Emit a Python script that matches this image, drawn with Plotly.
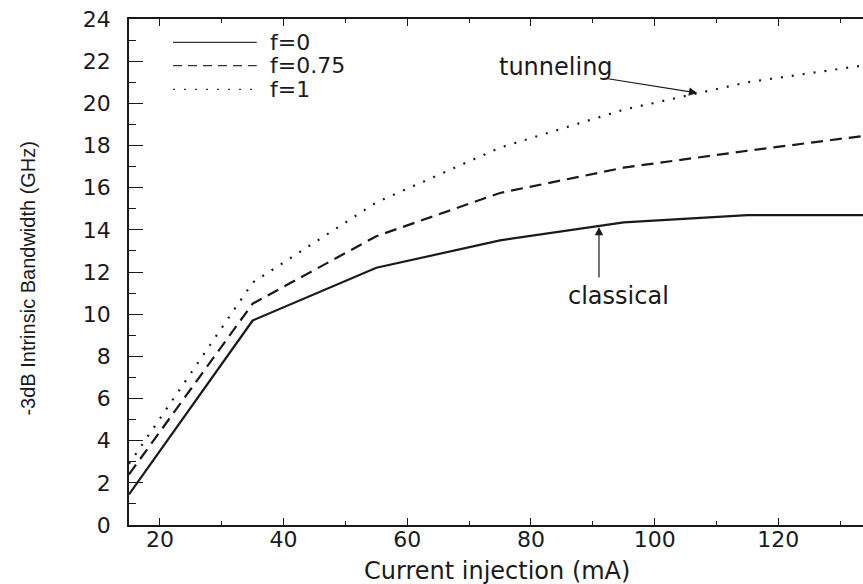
import plotly.graph_objects as go

# Injection current (mA) and -3 dB intrinsic bandwidth (GHz) for each f
current_mA = [15, 35, 55, 75, 95, 115, 135]
bw_f0 = [1.45, 9.7, 12.2, 13.5, 14.35, 14.7, 14.7]
bw_f075 = [2.4, 10.5, 13.7, 15.75, 16.95, 17.75, 18.5]
bw_f1 = [2.9, 11.5, 15.3, 17.9, 19.7, 21.0, 21.85]

series_names = ["f=0", "f=0.75", "f=1"]
x_ticks = [20, 40, 60, 80, 100, 120]
y_ticks = list(range(0, 25, 2))

FONT = "DejaVu Sans"
INK = "#1a1a1a"

line_styles = [
    dict(color=INK, width=2.2, dash="solid"),
    dict(color=INK, width=2.2, dash="12px,7px"),
    dict(color=INK, width=2.2, dash="2px,9px"),
]

fig = go.Figure()
for name, ys, style in zip(series_names, [bw_f0, bw_f075, bw_f1], line_styles):
    fig.add_trace(go.Scatter(x=current_mA, y=ys, mode="lines", name=name,
                             line=style, showlegend=False))

# Legend: sample line plus label for each series
legend_y = [0.954, 0.908, 0.861]
legend_dash = ["solid", "9px,6px", "2px,9px"]
for name, ly, dash in zip(series_names, legend_y, legend_dash):
    fig.add_shape(type="line", xref="paper", yref="paper",
                  x0=0.06, x1=0.174, y0=ly, y1=ly,
                  line=dict(color="#333333", width=1.2, dash=dash))
    fig.add_annotation(xref="paper", yref="paper", x=0.19, y=ly,
                       text=name, showarrow=False, xanchor="left",
                       yanchor="middle", font=dict(family=FONT, size=22, color=INK))

# Labels with arrows pointing at the curves
fig.add_annotation(x=84.0, y=21.73, text="tunneling", showarrow=False,
                   xanchor="center", yanchor="middle",
                   font=dict(family=FONT, size=24, color=INK))
fig.add_annotation(x=106.9, y=20.49, ax=91.7, ay=21.2, axref="x", ayref="y",
                   text="", showarrow=True, arrowhead=2, arrowsize=1.4,
                   arrowwidth=1.2, arrowcolor=INK, standoff=0)
fig.add_annotation(x=94.2, y=10.86, text="classical", showarrow=False,
                   xanchor="center", yanchor="middle",
                   font=dict(family=FONT, size=24, color=INK))
fig.add_annotation(x=91.0, y=14.14, ax=91.0, ay=11.67, axref="x", ayref="y",
                   text="", showarrow=True, arrowhead=2, arrowsize=1.4,
                   arrowwidth=1.2, arrowcolor=INK, standoff=0)

# Axis titles
fig.add_annotation(xref="paper", yref="paper", x=0.501, y=-0.091,
                   xanchor="center", yanchor="middle",
                   text="Current injection (mA)", showarrow=False,
                   font=dict(family=FONT, size=24, color=INK))
fig.add_annotation(xref="paper", yref="paper", x=-0.1376, y=0.487,
                   xanchor="center", yanchor="middle",
                   text="-3dB Intrinsic Bandwidth (GHz)", showarrow=False,
                   textangle=-90,
                   font=dict(family="Liberation Sans", size=20, color=INK))

fig.update_layout(
    width=863, height=584,
    margin=dict(l=129, r=0, t=19, b=59),
    paper_bgcolor="white", plot_bgcolor="white",
    xaxis=dict(
        range=[15, 133.69], tickvals=x_ticks, showgrid=False, zeroline=False,
        showline=True, linecolor=INK, linewidth=1.5, mirror="ticks",
        ticks="inside", ticklen=7, tickwidth=1.2, tickcolor=INK,
        minor=dict(dtick=10, tick0=0, ticks="inside", ticklen=4, tickcolor=INK, tickwidth=1.2),
        tickfont=dict(family=FONT, size=22, color=INK), ticklabelstandoff=-6,
    ),
    yaxis=dict(
        range=[0, 24], tickvals=y_ticks, showgrid=False, zeroline=False,
        showline=True, linecolor=INK, linewidth=1.5,
        ticks="inside", ticklen=14, tickwidth=1.2, tickcolor=INK,
        minor=dict(dtick=1, tick0=0, ticks="inside", ticklen=7, tickcolor=INK, tickwidth=1.2),
        tickfont=dict(family=FONT, size=22, color=INK), ticklabelstandoff=12,
    ),
    yaxis2=dict(
        range=[0, 24], overlaying="y", side="right", matches="y",
        tickvals=y_ticks, showticklabels=False, showgrid=False, zeroline=False,
        showline=False, ticks="inside", ticklen=7, tickwidth=1.2, tickcolor=INK,
        minor=dict(dtick=1, tick0=0, ticks="inside", ticklen=1, tickcolor=INK, tickwidth=1.2),
    ),
)

fig.write_html("out.html")
